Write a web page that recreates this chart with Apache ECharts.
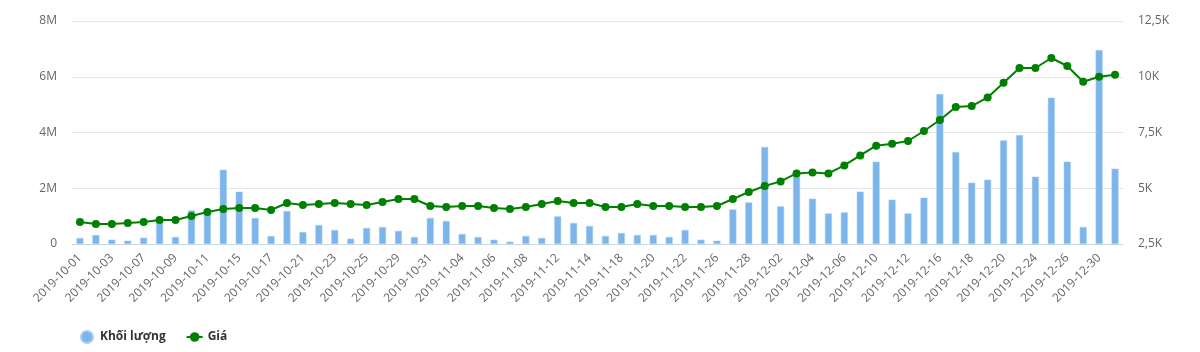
<!DOCTYPE html>
<html>
<head>
<meta charset="utf-8">
<script src="https://cdn.jsdelivr.net/npm/echarts@6/dist/echarts.min.js"></script>
<style>html,body{margin:0;padding:0;background:#fff}#c{width:1200px;height:352px}</style>
</head>
<body>
<div id="c"></div>
<script>
const categories = [
"2019-10-01","2019-10-02","2019-10-03","2019-10-04","2019-10-07","2019-10-08","2019-10-09","2019-10-10","2019-10-11","2019-10-14",
"2019-10-15","2019-10-16","2019-10-17","2019-10-18","2019-10-21","2019-10-22","2019-10-23","2019-10-24","2019-10-25","2019-10-28",
"2019-10-29","2019-10-30","2019-10-31","2019-11-01","2019-11-04","2019-11-05","2019-11-06","2019-11-07","2019-11-08","2019-11-11",
"2019-11-12","2019-11-13","2019-11-14","2019-11-15","2019-11-18","2019-11-19","2019-11-20","2019-11-21","2019-11-22","2019-11-25",
"2019-11-26","2019-11-27","2019-11-28","2019-11-29","2019-12-02","2019-12-03","2019-12-04","2019-12-05","2019-12-06","2019-12-09",
"2019-12-10","2019-12-11","2019-12-12","2019-12-13","2019-12-16","2019-12-17","2019-12-18","2019-12-19","2019-12-20","2019-12-23",
"2019-12-24","2019-12-25","2019-12-26","2019-12-27","2019-12-30","2019-12-31"
];
const volume = [
215000,323000,154000,118000,226000,811000,251000,1205000,1120000,2665000,
1876000,933000,287000,1184000,430000,682000,502000,190000,574000,610000,
470000,251000,933000,825000,359000,251000,154000,82000,287000,215000,
990000,753000,646000,287000,395000,323000,323000,251000,502000,154000,
118000,1240000,1490000,3480000,1350000,2430000,1625000,1098000,1134000,1876000,
2952000,1589000,1098000,1661000,5380000,3300000,2199000,2307000,3717000,3910000,
2414000,5250000,2952000,610000,6960000,2700000
];
const price = [
3490,3400,3400,3440,3490,3576,3576,3755,3935,4069,
4114,4114,4025,4338,4249,4294,4338,4294,4249,4383,
4518,4518,4204,4159,4204,4204,4114,4069,4159,4294,
4428,4338,4338,4159,4159,4294,4204,4204,4159,4159,
4204,4518,4832,5101,5307,5666,5711,5666,6024,6473,
6908,6997,7119,7567,8060,8643,8688,9074,9733,10392,
10392,10840,10482,9777,10002,10092
];
const seriesNames = ["Khối lượng","Giá"];

const chart = echarts.init(document.getElementById('c'));
chart.setOption({
  animation:false,
  textStyle:{fontFamily:'"Open Sans", "DejaVu Sans", sans-serif'},
  grid:{left:72,right:77,top:21,bottom:108},
  legend:{
    left:75, top:325, itemGap:20, itemWidth:16, itemHeight:12,
    textStyle:{fontWeight:'bold',color:'#333',fontSize:12},
    data:[{name:seriesNames[0],icon:'circle'},{name:seriesNames[1]}]
  },
  xAxis:{
    type:'category', data:categories, boundaryGap:true,
    axisLine:{lineStyle:{color:'#ccd6eb'}},
    axisTick:{alignWithLabel:true,interval:1,length:8,lineStyle:{color:'#ccd6eb'}},
    axisLabel:{interval:1,rotate:45,color:'#666',fontSize:12,margin:12}
  },
  yAxis:[
    {type:'value',min:0,max:8000000,interval:2000000,
     axisLabel:{color:'#666',fontSize:12,margin:15,formatter:v=>v===0?'0':(v/1e6)+'M'},
     splitLine:{lineStyle:{color:'#e6e6e6'}},axisLine:{show:false},axisTick:{show:false}},
    {type:'value',min:2500,max:12500,interval:2500,position:'right',
     axisLabel:{color:'#666',fontSize:12,margin:15,formatter:v=>String(v/1000).replace('.',',')+'K'},
     splitLine:{show:false},axisLine:{show:false},axisTick:{show:false}}
  ],
  series:[
    {name:seriesNames[0],type:'bar',yAxisIndex:0,data:volume,barWidth:7,
     itemStyle:{color:'#7cb5ec',borderColor:'#a8cff3',borderWidth:0.5}},
    {name:seriesNames[1],type:'line',yAxisIndex:1,data:price,
     symbol:'circle',symbolSize:8,
     lineStyle:{color:'#008000',width:2},itemStyle:{color:'#008000'}}
  ]
});
</script>
</body>
</html>
